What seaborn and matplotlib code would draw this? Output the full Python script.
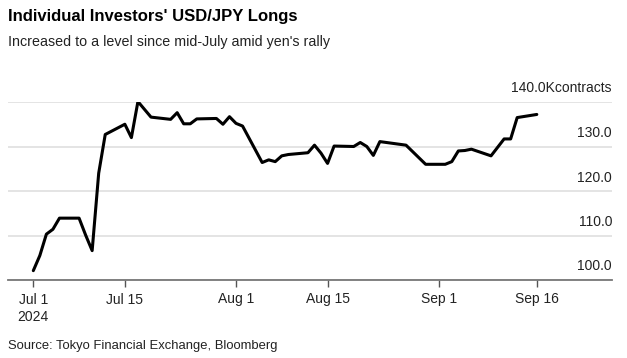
import matplotlib
matplotlib.use("Agg")
import matplotlib.pyplot as plt
import matplotlib.dates as mdates
import matplotlib.transforms as mtrans
import seaborn as sns
import pandas as pd

# ---- data (thousand contracts) ----
dates = ["2024-07-01", "2024-07-02", "2024-07-03", "2024-07-04", "2024-07-05",
         "2024-07-08", "2024-07-09", "2024-07-10", "2024-07-11", "2024-07-12",
         "2024-07-15", "2024-07-16", "2024-07-17", "2024-07-19",
         "2024-07-22", "2024-07-23", "2024-07-24", "2024-07-25", "2024-07-26",
         "2024-07-29", "2024-07-30", "2024-07-31", "2024-08-01", "2024-08-02",
         "2024-08-05", "2024-08-06", "2024-08-07", "2024-08-08", "2024-08-09",
         "2024-08-12", "2024-08-13", "2024-08-14", "2024-08-15", "2024-08-16",
         "2024-08-19", "2024-08-20", "2024-08-21", "2024-08-22", "2024-08-23",
         "2024-08-27", "2024-08-30",
         "2024-09-02", "2024-09-03", "2024-09-04", "2024-09-05", "2024-09-06",
         "2024-09-09", "2024-09-11", "2024-09-12", "2024-09-13", "2024-09-16"]
longs = [102.1, 105.5, 110.3, 111.4, 113.9,
         113.9, 110.1, 106.6, 124.0, 132.7,
         135.0, 132.0, 140.1, 136.6,
         136.1, 137.6, 135.1, 135.1, 136.2,
         136.3, 135.0, 136.7, 135.2, 134.6,
         126.4, 127.0, 126.6, 127.9, 128.2,
         128.6, 130.3, 128.5, 126.2, 130.1,
         130.0, 130.9, 130.0, 128.0, 131.1,
         130.3, 126.0,
         126.0, 126.6, 129.0, 129.1, 129.4,
         127.9, 131.7, 131.7, 136.5, 137.2]

tick_dates = ["2024-07-01", "2024-07-15", "2024-08-01", "2024-08-15", "2024-09-01", "2024-09-16"]
tick_labels = ["Jul 1\n2024", "Jul 15", "Aug 1", "Aug 15", "Sep 1", "Sep 16"]
y_ticks = [100, 110, 120, 130, 140]
y_labels = ["100.0", "110.0", "120.0", "130.0", "140.0Kcontracts"]

title = "Individual Investors' USD/JPY Longs"
subtitle = "Increased to a level since mid-July amid yen's rally"
source = "Source: Tokyo Financial Exchange, Bloomberg"

# ---- style ----
sns.set_style("white")
plt.rcParams["font.family"] = ["Liberation Sans", "DejaVu Sans"]

W, H = 627, 358
fig = plt.figure(figsize=(W / 100, H / 100), dpi=100)
ax = fig.add_axes([8 / W, 1 - 280 / H, (612 - 8) / W, (280 - 102) / H])

df = pd.DataFrame({"date": pd.to_datetime(dates), "longs": longs})
sns.lineplot(data=df, x="date", y="longs", color="black", linewidth=2.2, ax=ax)

ax.set_ylim(100, 140)
x0 = pd.Timestamp("2024-07-01") - pd.Timedelta(days=3.87)
x1 = pd.Timestamp("2024-09-16") + pd.Timedelta(days=11.5)
ax.set_xlim(x0, x1)

ax.set_yticks(y_ticks)
ax.yaxis.grid(True, color="#e2e2e2", linewidth=1.3)
ax.xaxis.grid(False)
ax.tick_params(axis="y", left=False, right=False, labelleft=False, labelright=False)

ax.set_xticks(pd.to_datetime(tick_dates))
ax.set_xticklabels(tick_labels, fontsize=10, color="#222222", linespacing=1.35)
ax.tick_params(axis="x", direction="out", length=5, width=1, color="#555555", pad=4, bottom=True)

for s in ["top", "left", "right"]:
    ax.spines[s].set_visible(False)
ax.spines["bottom"].set_color("#777777")
ax.spines["bottom"].set_linewidth(1.3)
ax.set_xlabel("")
ax.set_ylabel("")

blend = mtrans.blended_transform_factory(ax.transAxes, ax.transData)
off = mtrans.ScaledTranslation(0, 13.5 / 100, fig.dpi_scale_trans)
for v, lab in zip(y_ticks, y_labels):
    ax.text(1.0, v, lab, transform=blend + off, ha="right", va="center",
            fontsize=10, color="#222222")

fig.text(8 / W, 1 - 21.5 / H, title, fontsize=12, fontweight="bold", color="black", va="baseline")
fig.text(8 / W, 1 - 46 / H, subtitle, fontsize=10.3, color="#222222", va="baseline")
fig.text(8 / W, 1 - 349.5 / H, source, fontsize=9.4, color="#222222", va="baseline")

fig.savefig("out.png", dpi=100)
